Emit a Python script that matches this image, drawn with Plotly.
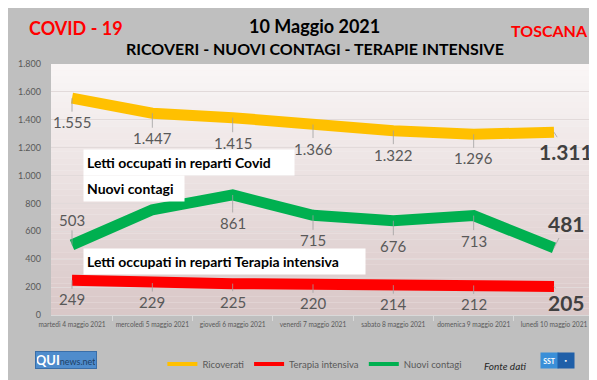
import plotly.graph_objects as go

dates = ["martedì 4 maggio 2021", "mercoledì 5 maggio 2021", "giovedì 6 maggio 2021",
         "venerdì 7 maggio 2021", "sabato 8 maggio 2021", "domenica 9 maggio 2021",
         "lunedì 10 maggio 2021"]
ricoverati = [1555, 1447, 1415, 1366, 1322, 1296, 1311]
terapia = [249, 229, 225, 220, 214, 212, 205]
contagi = [503, 755, 861, 715, 676, 713, 481]
# label of contagi on 5 May is hidden behind the "Nuovi contagi" box in the original
contagi_hidden = [False, True, False, False, False, False, False]

FONT = "Lato"
C_Y, C_R, C_G = "#FFC000", "#FF0000", "#00B050"

def fmt(v):
    return f"{v:,}".replace(",", ".")

fig = go.Figure()
series = [("Ricoverati", ricoverati, C_Y),
          ("Terapia intensiva", terapia, C_R),
          ("Nuovi contagi", contagi, C_G)]
for name, vals, col in series:
    fig.add_trace(go.Scatter(x=dates, y=vals, name=name, mode="lines", showlegend=False,
                             line=dict(color=col, width=11), hoverinfo="skip"))
# legend entries (thinner legend keys)
for name, vals, col in series:
    fig.add_trace(go.Scatter(x=[None], y=[None], name=name, mode="lines",
                             line=dict(color=col, width=4), hoverinfo="skip"))

# gradient plot background
N = 40
top = (250, 247, 247)
bot = (217, 199, 199)
for i in range(N):
    t = (i + 0.5) / N
    c = tuple(int(round(bot[k] + (top[k] - bot[k]) * t)) for k in range(3))
    fig.add_shape(type="rect", xref="x domain", yref="y domain", x0=0, x1=1,
                  y0=i / N, y1=(i + 1) / N, fillcolor=f"rgb{c}", line_width=0,
                  layer="below")

# data labels (offsets in px: positive = below)
yel_off = [24, 25, 25, 24, 24, 24, 19]
grn_off = [-25, -25, 28, 25, 25, 25, -24]
red_off = [19, 19, 18, 19, 19, 19, 16]
no_hide = [False] * len(dates)
for vals, offs, hide in [(ricoverati, yel_off, no_hide), (contagi, grn_off, contagi_hidden),
                         (terapia, red_off, no_hide)]:
    n = len(vals)
    for i, (d, v, o, h) in enumerate(zip(dates, vals, offs, hide)):
        if h:
            continue
        last = i == n - 1
        fig.add_annotation(
            x=d, y=v, text=("<b>%s</b>" % fmt(v)) if last else fmt(v),
            showarrow=True, arrowhead=0, arrowwidth=0.8, arrowcolor="#a0a0a0",
            ax=(12 if last else 0), ay=o, standoff=0, startstandoff=0,
            font=dict(family=FONT, size=(21 if last else 15),
                      color=("#404040" if last else "#595959")))

def px(x):
    return (x - 40) / 547

def py(y):
    return (317 - y) / 261

# series name boxes
for t_, x0, yc, w in [("Letti occupati in reparti Covid", 72, 158.5, 212),
                      ("Nuovi contagi", 72, 185.5, 102),
                      ("Letti occupati in reparti Terapia intensiva", 72, 261.5, 283)]:
    fig.add_annotation(xref="paper", yref="paper", x=px(x0), y=py(yc),
                       xanchor="left", yanchor="middle",
                       text="<b>%s</b>" % t_, showarrow=False, align="left",
                       width=w - 8, height=19, bgcolor="#ffffff",
                       borderpad=3, font=dict(family=FONT, size=14, color="#000000"))

def txt(x, y, s, size, color, **kw):
    fig.add_annotation(xref="paper", yref="paper", x=px(x), y=py(y), text=s,
                       xanchor="center", yanchor="middle", showarrow=False,
                       font=dict(family=FONT, size=size, color=color), **kw)

txt(305, 17, "<b>10 Maggio 2021</b>", 18, "#000000")
txt(305, 40, "<b>RICOVERI - NUOVI CONTAGI - TERAPIE INTENSIVE</b>", 16, "#000000")
txt(65, 19, "<b>COVID - 19</b>", 18, "#FF0000")
txt(541, 21, "<b>TOSCANA</b>", 16, "#FF0000")
txt(497, 370, "<i>Fonte dati</i>", 10, "#262626")
txt(55, 364, "<b>QUI</b><span style='font-size:9px;color:#1d3f66'>news.net</span>", 13, "#ffffff",
    bgcolor="#4f8ccc", bordercolor="#3a6ea8", borderpad=1, width=58, height=14)
txt(541, 364, "<b>SST</b>", 7, "#ffffff", bgcolor="#3a8fd8", borderpad=1, width=15, height=13)
txt(558, 364, "▪", 6, "#ffffff", bgcolor="#1f5fa8", borderpad=1, width=14, height=13)

fig.update_layout(
    width=597, height=380,
    margin=dict(l=40, r=10, t=56, b=63),
    paper_bgcolor="#bfbfbf", plot_bgcolor="#f5f0f0",
    separators=",.",
    font=dict(family=FONT, color="#595959"),
    showlegend=True,
    legend=dict(orientation="h", x=px(152), xanchor="left", y=py(368), yanchor="middle",
                bgcolor="rgba(0,0,0,0)", font=dict(family=FONT, size=9.5, color="#595959"),
                itemwidth=30, tracegroupgap=0),
    xaxis=dict(type="category", tickfont=dict(size=6.6, color="#595959"), tickangle=0,
               showgrid=False, showline=True, linecolor="#d9d9d9", linewidth=1,
               ticks="outside", tickson="boundaries", ticklen=5, tickcolor="#d9d9d9",
               ticklabelstandoff=3, fixedrange=True),
    yaxis=dict(range=[0, 1800], dtick=200, tickformat=",d",
               tickfont=dict(size=9, color="#595959"), showgrid=True,
               gridcolor="#e2dada", gridwidth=1, zeroline=False, showline=False,
               ticklabelstandoff=9, fixedrange=True),
)

fig.write_html("out.html")
